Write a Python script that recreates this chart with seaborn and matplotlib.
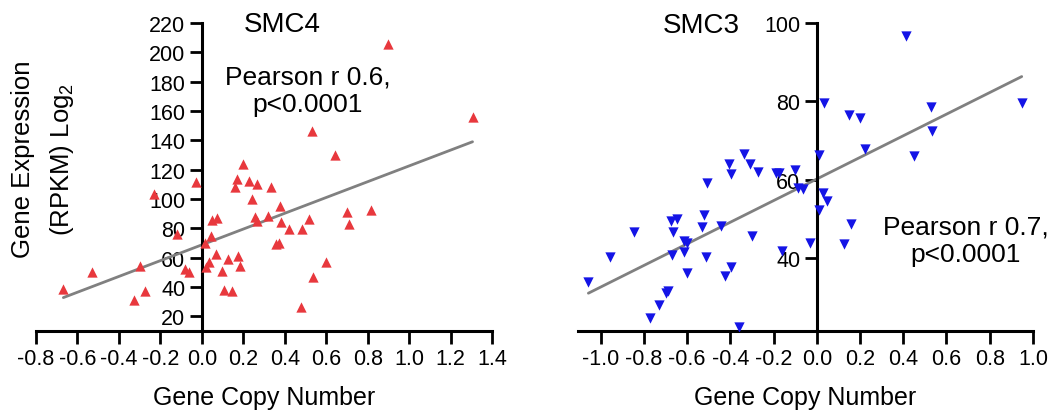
import numpy as np
import pandas as pd
import matplotlib
matplotlib.use("Agg")
import matplotlib.pyplot as plt
import seaborn as sns

# ---- data ----
smc4_cn = [-0.668, -0.531, -0.328, -0.300, -0.272, -0.233, -0.118, -0.081, -0.064, -0.029,
           0.014, 0.021, 0.037, 0.042, 0.047, 0.071, 0.069, 0.098, 0.109, 0.127,
           0.145, 0.159, 0.172, 0.176, 0.182, 0.201, 0.230, 0.243, 0.267, 0.258,
           0.267, 0.319, 0.335, 0.356, 0.372, 0.375, 0.383, 0.420, 0.477, 0.485,
           0.517, 0.533, 0.538, 0.597, 0.641, 0.702, 0.710, 0.815, 0.899, 1.306]
smc4_expr = [38.7, 50.5, 31.1, 54.6, 37.5, 103.5, 76.0, 52.3, 50.0, 111.5,
             69.8, 53.5, 57.0, 75.0, 86.0, 87.0, 62.5, 51.2, 38.0, 59.0,
             37.5, 108.0, 113.7, 61.0, 54.6, 124.0, 112.6, 100.0, 110.3, 87.6,
             85.0, 88.7, 108.0, 69.4, 70.0, 95.5, 84.2, 79.6, 26.1, 79.6,
             86.4, 146.7, 46.6, 57.0, 129.7, 91.0, 83.0, 92.6, 205.4, 155.8]

smc3_cn = [-1.057, -0.955, -0.847, -0.770, -0.729, -0.698, -0.690, -0.676, -0.664, -0.668,
           -0.648, -0.613, -0.613, -0.600, -0.602, -0.531, -0.523, -0.515, -0.506, -0.443,
           -0.427, -0.406, -0.398, -0.398, -0.358, -0.338, -0.307, -0.301, -0.272, -0.190,
           -0.175, -0.162, -0.103, -0.088, -0.062, -0.031, 0.010, 0.010, 0.030, 0.045,
           0.035, 0.127, 0.150, 0.157, 0.201, 0.224, 0.414, 0.448, 0.529, 0.535, 0.948]
smc3_expr = [33.9, 40.1, 46.5, 24.6, 28.0, 31.1, 31.5, 49.5, 46.7, 40.7,
             49.9, 41.6, 44.2, 43.9, 36.1, 47.8, 51.0, 40.1, 59.1, 48.2,
             35.4, 64.0, 61.3, 37.7, 22.3, 66.5, 64.0, 45.6, 61.9, 61.8,
             61.8, 41.8, 62.5, 57.8, 57.6, 43.9, 66.3, 52.3, 56.6, 54.6,
             79.5, 43.5, 76.4, 48.6, 75.8, 67.7, 96.6, 65.9, 78.5, 72.5, 79.5]

smc4_xticks = [-0.8, -0.6, -0.4, -0.2, 0.0, 0.2, 0.4, 0.6, 0.8, 1.0, 1.2, 1.4]
smc4_yticks = [20, 40, 60, 80, 100, 120, 140, 160, 180, 200, 220]
smc3_xticks = [-1.0, -0.8, -0.6, -0.4, -0.2, 0.0, 0.2, 0.4, 0.6, 0.8, 1.0]
smc3_yticks = [40, 60, 80, 100]

smc4 = pd.DataFrame({"cn": smc4_cn, "expr": smc4_expr})
smc3 = pd.DataFrame({"cn": smc3_cn, "expr": smc3_expr})

sns.set_style("white")
plt.rcParams["font.family"] = ["Liberation Sans", "DejaVu Sans"]
plt.rcParams["mathtext.fontset"] = "custom"
plt.rcParams["mathtext.rm"] = "Liberation Sans"
plt.rcParams["text.color"] = "black"
plt.rcParams["axes.labelcolor"] = "black"
plt.rcParams["xtick.color"] = "black"
plt.rcParams["ytick.color"] = "black"

fig = plt.figure(figsize=(10.59, 4.14), dpi=100)
ax1 = fig.add_axes([0.034, 0.198, 0.4306, 0.744])
ax2 = fig.add_axes([0.5458, 0.198, 0.4296, 0.744])

line_kws = dict(color="#808080", lw=2.0)

sns.regplot(data=smc4, x="cn", y="expr", ax=ax1, ci=None, truncate=True, marker="^",
            scatter_kws=dict(color="#E8383D", s=55, linewidths=0, alpha=1, zorder=3),
            line_kws=line_kws)
sns.regplot(data=smc3, x="cn", y="expr", ax=ax2, ci=None, truncate=True, marker="v",
            scatter_kws=dict(color="#1414E6", s=55, linewidths=0, alpha=1, zorder=3),
            line_kws=line_kws)

def style_axis(ax, xlim, ylim, xticks, yticks):
    ax.set_xlim(*xlim)
    ax.set_ylim(*ylim)
    ax.set_xticks(xticks)
    ax.set_yticks(yticks)
    ax.set_xticklabels([f"{t:.1f}" for t in xticks])
    ax.set_yticklabels([str(t) for t in yticks])
    ax.spines["left"].set_position(("data", 0))
    ax.spines["top"].set_visible(False)
    ax.spines["right"].set_visible(False)
    for s in ("left", "bottom"):
        ax.spines[s].set_linewidth(2.2)
        ax.spines[s].set_color("black")
    ax.tick_params(axis="both", direction="out", length=9, width=2.0,
                   labelsize=15.5, color="black", labelcolor="black", pad=3,
                   bottom=True, left=True)
    ax.set_xlabel("Gene Copy Number", fontsize=18, labelpad=12, color="black")
    ax.set_ylabel("")
    ax.grid(False)

style_axis(ax1, (-0.8, 1.4), (10, 220), smc4_xticks, smc4_yticks)
style_axis(ax2, (-1.105, 1.0), (21.3, 100), smc3_xticks, smc3_yticks)

ax1.text(0.39, 219, "SMC4", fontsize=20, ha="center", va="center")
ax1.text(0.51, 174, "Pearson r 0.6,\np<0.0001", fontsize=19, ha="center", va="center",
         linespacing=1.2)
ax2.text(-0.535, 99.5, "SMC3", fontsize=20, ha="center", va="center")
ax2.text(0.69, 44.5, "Pearson r 0.7,\np<0.0001", fontsize=19, ha="center", va="center",
         linespacing=1.2)

fig.text(0.022, 0.615, "Gene Expression", rotation=90, fontsize=18.5, ha="center", va="center")
fig.text(0.059, 0.615, "(RPKM) Log$_2$", rotation=90, fontsize=18.5, ha="center", va="center")

fig.savefig("out.png", dpi=100)
